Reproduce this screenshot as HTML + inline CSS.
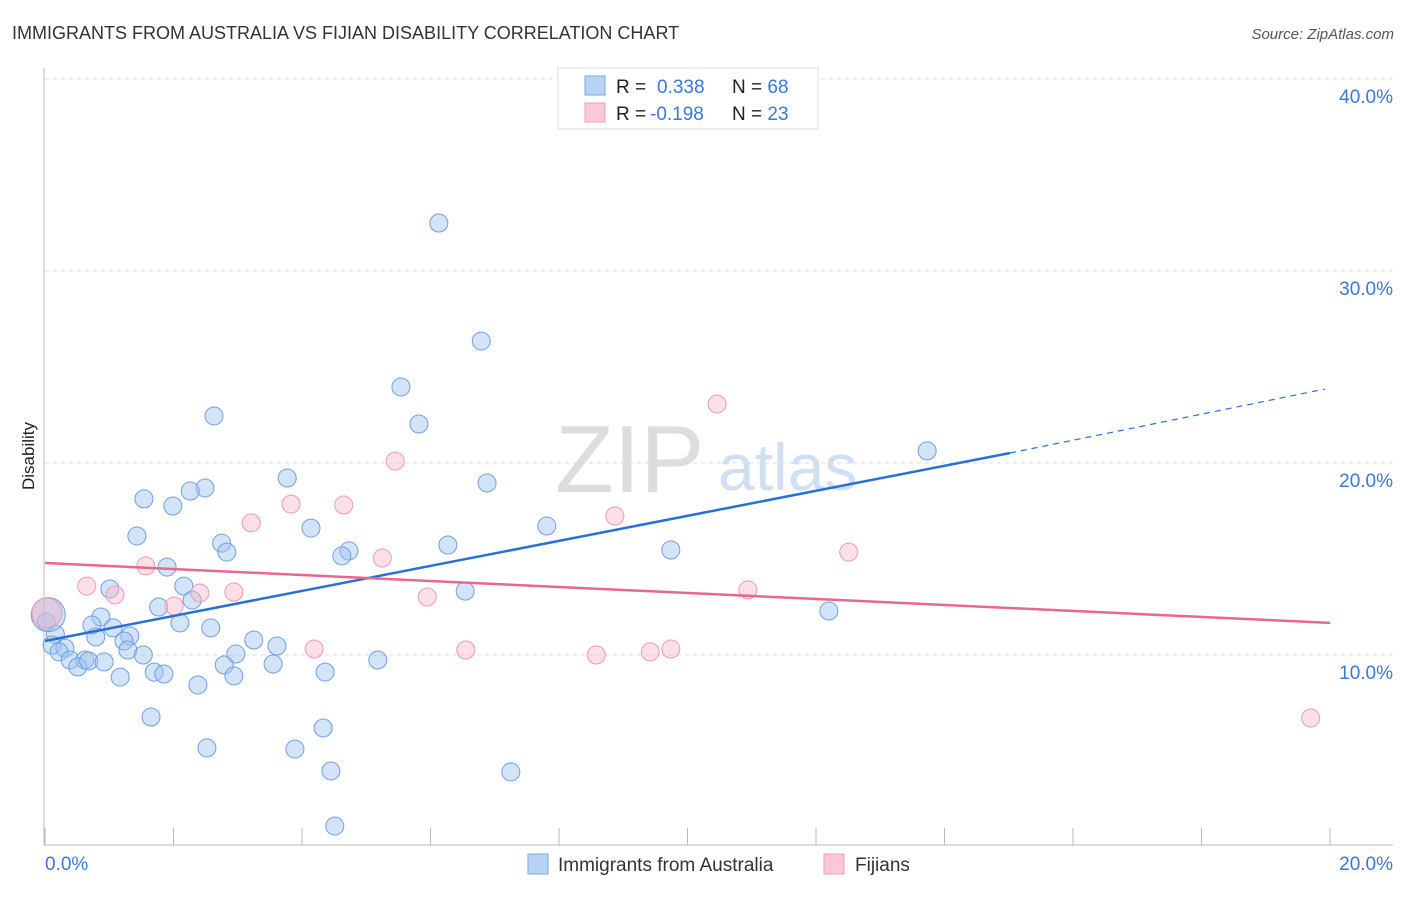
<!DOCTYPE html>
<html><head><meta charset="utf-8"><style>
body{margin:0;background:#fff;font-family:"Liberation Sans",sans-serif;}
svg text{font-family:"Liberation Sans",sans-serif;}
</style></head><body>
<svg id="chart" width="1406" height="892" xmlns="http://www.w3.org/2000/svg">
<text x="12" y="39" font-size="18" fill="#333">IMMIGRANTS FROM AUSTRALIA VS FIJIAN DISABILITY CORRELATION CHART</text>
<text x="1394" y="39" font-size="15" fill="#555" font-style="italic" text-anchor="end">Source: ZipAtlas.com</text>
<text x="34" y="456" font-size="17" fill="#222" text-anchor="middle" transform="rotate(-90 34 456)">Disability</text>
<text x="555" y="492" font-size="96" fill="#ddd" font-family="Liberation Serif">ZIP</text>
<text x="718" y="490" font-size="66" fill="#cfe0f3">atlas</text>
<g id="grid"></g><g id="axes"></g><g id="pts"></g><g id="lines"></g>
<g>
<rect x="558" y="68" width="260" height="61" fill="#fff" stroke="#ddd"/>
<rect x="585" y="76" width="20" height="19" fill="#b8d3f5" stroke="#7aa8e6"/>
<rect x="585" y="103" width="20" height="19" fill="#fbc9d6" stroke="#ee9db5"/>
<text x="616" y="93" font-size="19" fill="#222">R = <tspan fill="#3a78d8" x="657">0.338</tspan><tspan x="732" fill="#222">N = </tspan><tspan fill="#3a78d8">68</tspan></text>
<text x="616" y="120" font-size="19" fill="#222">R = <tspan fill="#3a78d8" x="650">-0.198</tspan><tspan x="732" fill="#222">N = </tspan><tspan fill="#3a78d8">23</tspan></text>
</g>
<g>
<rect x="528" y="854" width="20" height="20" fill="#b8d3f5" stroke="#7aa8e6"/>
<text x="558" y="871" font-size="19" fill="#333">Immigrants from Australia</text>
<rect x="824" y="854" width="20" height="20" fill="#fbc9d6" stroke="#ee9db5"/>
<text x="855" y="871" font-size="19" fill="#333">Fijians</text>
</g>
</svg>
<script>
const yTicks=[10,20,30,40];
const yTickLabels=["10.0%","20.0%","30.0%","40.0%"];
const blueX=[6.13,6.79,5.54,5.82,2.63,13.73,3.77,6.88,2.49,2.26,1.54,1.99,4.14,7.81,1.43,2.75,2.83,4.73,4.62,6.27,9.74,1.90,2.16,1.01,6.54,2.29,1.77,12.20,0.87,2.10,0.73,2.58,1.06,1.32,0.79,1.23,0.16,0.11,0.31,3.25,3.61,1.29,1.53,2.97,0.22,0.39,0.62,0.51,0.68,0.92,3.55,2.79,5.18,1.70,1.85,4.36,1.17,2.94,2.38,1.65,4.33,2.52,3.89,4.45,7.25,4.51,0.02];
const blueY=[32.5,26.35,23.96,22.03,22.45,20.63,19.22,18.96,18.7,18.54,18.13,17.76,16.61,16.72,16.2,15.83,15.36,15.42,15.16,15.73,15.47,14.58,13.59,13.44,13.33,12.86,12.5,12.29,11.98,11.67,11.56,11.41,11.41,10.99,10.94,10.73,11.09,10.52,10.36,10.78,10.47,10.26,10.0,10.05,10.16,9.74,9.74,9.38,9.69,9.64,9.53,9.48,9.74,9.11,9.01,9.11,8.85,8.91,8.44,6.77,6.2,5.16,5.1,3.96,3.91,1.09,11.72];
const blueBigX=[0.05], blueBigY=[12.1];
const pinkX=[10.46,5.45,3.83,4.65,3.21,8.87,5.25,12.51,1.57,0.65,1.09,2.41,2.94,2.01,10.94,5.95,4.19,6.55,8.58,9.42,9.74,19.70];
const pinkY=[23.07,20.1,17.86,17.81,16.88,17.24,15.05,15.36,14.64,13.59,13.13,13.23,13.28,12.55,13.39,13.02,10.31,10.26,10.0,10.16,10.31,6.72];
const pinkBigX=[0.03], pinkBigY=[12.19];
const blueTrend=[10.73,20.52,23.85]; // y at x=0, 15.02, 19.92
const blueTrendX=[0,15.02,19.92];
const pinkTrend=[14.79,11.67];
const pinkTrendX=[0,20];
const NS="http://www.w3.org/2000/svg";
const X=v=>45+v*64.25, Y=v=>847-v*19.2;
function mk(p,tag,a){const e=document.createElementNS(NS,tag);for(const k in a)e.setAttribute(k,a[k]);document.getElementById(p).appendChild(e);return e;}
yTicks.forEach((t,i)=>{
 const g=mk('grid','line',{x1:45,x2:1393,y1:Y(t),y2:Y(t),stroke:'#ddd','stroke-dasharray':'4,4'});
 
 
 const l=mk('grid','text',{x:1393,y:Y(t)+24,'font-size':19,fill:'#3a78d8','text-anchor':'end'});l.textContent=yTickLabels[i];
 
 
});
let a=mk('axes','line',{x1:44,x2:44,y1:68,y2:845,stroke:'#bbb'});


a=mk('axes','line',{x1:44,x2:1393,y1:845,y2:845,stroke:'#bbb'});


for(let i=0;i<=10;i++){const t=mk('axes','line',{x1:X(i*2),x2:X(i*2),y1:828,y2:845,stroke:'#bbb'});
 
 }
let xl=mk('axes','text',{x:45,y:870,'font-size':19,fill:'#3a78d8'});xl.textContent='0.0%';


xl=mk('axes','text',{x:1393,y:870,'font-size':19,fill:'#3a78d8','text-anchor':'end'});xl.textContent='20.0%';


function dots(xs,ys,r,fill,stroke,name){xs.forEach((v,i)=>{const c=mk('pts','circle',{cx:X(v),cy:Y(ys[i]),r:r,fill:fill,stroke:stroke,'stroke-width':1});
 
 });}
dots(blueX,blueY,9,'rgba(160,195,240,0.45)','#6f9fe0','australia-point');
dots(blueBigX,blueBigY,17,'rgba(160,195,240,0.45)','#6f9fe0','australia-point-large');
dots(pinkX,pinkY,9,'rgba(248,185,202,0.45)','#ec9ab3','fijian-point');
dots(pinkBigX,pinkBigY,15,'rgba(230,180,200,0.5)','#ec9ab3','fijian-point-large');
let ln=mk('lines','line',{x1:X(blueTrendX[0]),y1:Y(blueTrend[0]),x2:X(blueTrendX[1]),y2:Y(blueTrend[1]),stroke:'#2a6fd6','stroke-width':2.5});


ln=mk('lines','line',{x1:X(blueTrendX[1]),y1:Y(blueTrend[1]),x2:X(blueTrendX[2]),y2:Y(blueTrend[2]),stroke:'#2a6fd6','stroke-width':1.2,'stroke-dasharray':'6,5'});


ln=mk('lines','line',{x1:X(pinkTrendX[0]),y1:Y(pinkTrend[0]),x2:X(pinkTrendX[1]),y2:Y(pinkTrend[1]),stroke:'#e8668f','stroke-width':2.5});


</script>
</body></html>
